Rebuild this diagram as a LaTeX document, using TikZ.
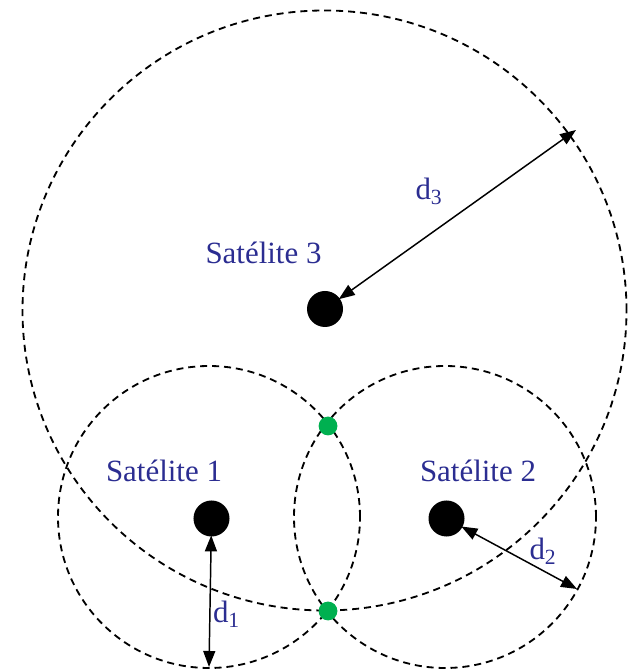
\documentclass[tikz,border=0pt]{standalone}
\usepackage{fontspec}
\setmainfont{Liberation Serif}
\definecolor{satblue}{RGB}{43,45,145}
\definecolor{fixgreen}{RGB}{0,176,80}
\usetikzlibrary{arrows.meta, positioning}

\begin{document}
\begin{tikzpicture}[
    x=0.025cm, y=0.025cm,
    sat/.style={circle, fill=black, minimum size=0.9cm, inner sep=0pt},
    fix/.style={circle, fill=fixgreen, minimum size=0.47cm, inner sep=0pt},
    satrange/.style={dash pattern=on 5pt off 3.5pt, line width=1.3pt},
    dist/.style={{Triangle[length=0.4cm, width=0.3cm]}-{Triangle[length=0.4cm, width=0.3cm]},
      line width=1.05pt, shorten <=-1pt},
    satlabel/.style={text=satblue, font=\fontsize{22}{26}\selectfont, anchor=base, inner sep=0pt},
    dlabel/.style={text=satblue, font=\fontsize{22}{26}\selectfont, anchor=base, inner sep=0pt},
  ]
    \useasboundingbox (0,0) rectangle (628,670);
    % satellites
    \node[sat] (s3) at (325,361) {};
    \node[sat] (s1) at (211.5,151.5) {};
    \node[sat] (s2) at (446.5,151.5) {};
    % ranges
    \draw[satrange] (324.5,359.5) ellipse[x radius=302, y radius=300];
    \draw[satrange] (209,153) circle[radius=151];
    \draw[satrange] (445,153) circle[radius=151];
    % intersections
    \node[fix] (p1) at (328,244) {};
    \node[fix] (p2) at (328,59) {};
    % distances
    \coordinate (e1) at (209,3);
    \coordinate (e2) at (577,81);
    \coordinate (e3) at (576,540);
    \draw[dist] (s1) -- (e1);
    \draw[dist] (s2) -- (e2);
    \draw[dist] (s3) -- (e3);
    \node[satlabel] (t3) at (263.5,406) {Satélite 3};
    \node[satlabel] (t1) at (164,188) {Satélite 1};
    \node[satlabel] (t2) at (478,188) {Satélite 2};
    \node[dlabel] (l3) at (429,470) {d\textsubscript{3}};
    \node[dlabel] (l1) at (226.5,47) {d\textsubscript{1}};
    \node[dlabel] (l2) at (543,110) {d\textsubscript{2}};
  \end{tikzpicture}
\end{document}
